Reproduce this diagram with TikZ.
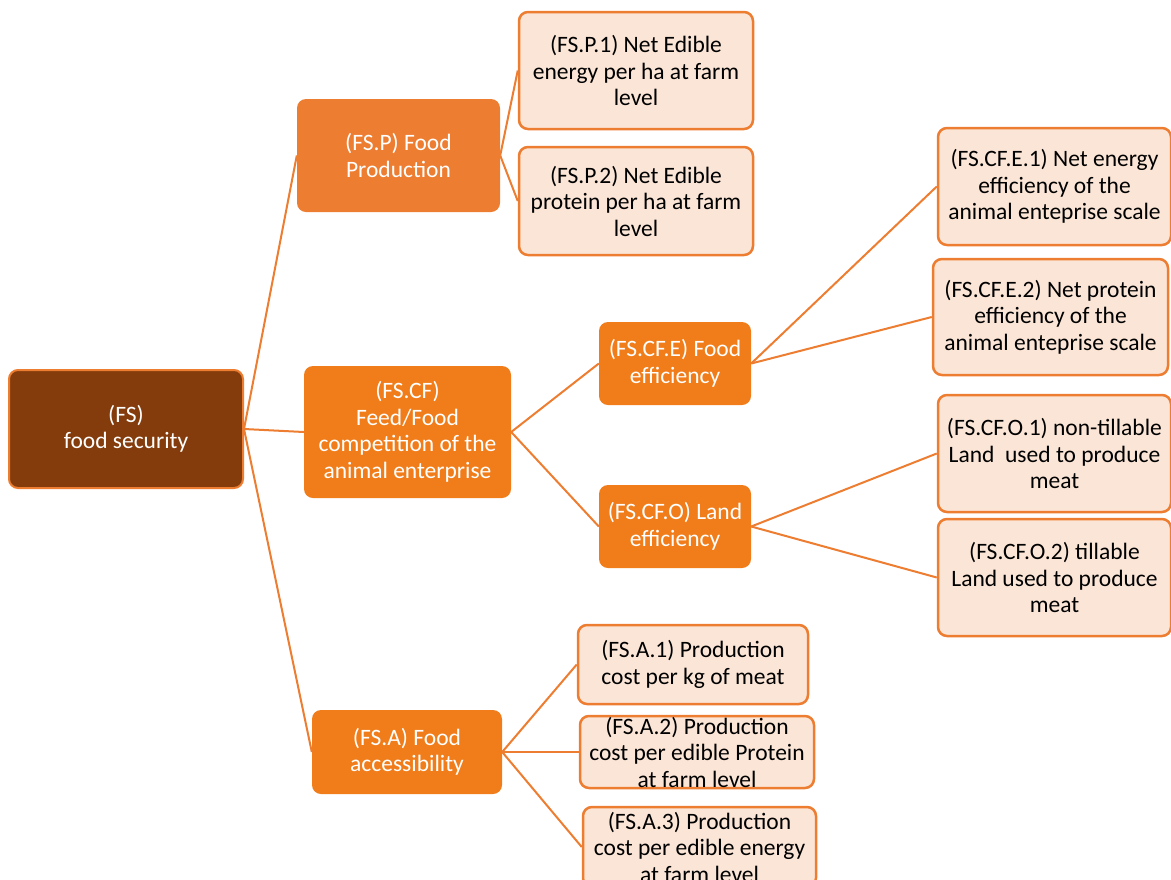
\documentclass[tikz,border=0pt]{standalone}
\usepackage{fontspec}
\setmainfont{Carlito}
\usetikzlibrary{positioning}
\definecolor{bark}{RGB}{132,60,12}
\definecolor{pumpkin}{RGB}{237,125,49}
\definecolor{tangerine}{RGB}{240,125,26}
\definecolor{peach}{RGB}{251,229,214}

\tikzset{
  box/.style={rounded corners=9pt,align=center,inner sep=0pt,
    font=\fontsize{23.5}{26.5}\selectfont},
  root/.style={box,fill=bark,draw=pumpkin,line width=2pt,text=white},
  branch/.style={box,fill=tangerine,text=white},
  leaf/.style={box,fill=peach,draw=pumpkin,line width=2.5pt,text=black},
  link/.style={pumpkin,line width=2pt}
}

\begin{document}
\begin{tikzpicture}[x=1pt,y=-1pt]
        \useasboundingbox (0,0) rectangle (1171,879);
        % root
        \node[root,minimum width=234pt,minimum height=118pt] (fs) at (126,429) {(FS)\\food security};
        % second level
        \node[branch,fill=pumpkin,minimum width=203pt,minimum height=113pt] (fsp) at (398.5,155.5) {(FS.P) Food\\Production};
        \node[branch,minimum width=207pt,minimum height=132pt] (fscf) at (407.5,432) {(FS.CF)\\Feed/Food\\competition of the\\animal enterprise};
        \node[branch,minimum width=190pt,minimum height=84pt] (fsa) at (407,752) {(FS.A) Food\\accessibility};
        % third level
        \node[leaf,minimum width=234pt,minimum height=117pt] (fsp1) at (636,70.5) {(FS.P.1) Net Edible\\energy per ha at farm\\level};
        \node[leaf,minimum width=234pt,minimum height=108pt] (fsp2) at (636,201) {(FS.P.2) Net Edible\\protein per ha at farm\\level};
        \node[branch,minimum width=152pt,minimum height=83pt] (fscfe) at (675,363.5) {(FS.CF.E) Food\\efficiency};
        \node[branch,minimum width=152pt,minimum height=83pt] (fscfo) at (675,526.5) {(FS.CF.O) Land\\efficiency};
        \node[leaf,minimum width=230pt,minimum height=79pt] (fsa1) at (693,664.5) {(FS.A.1) Production\\cost per kg of meat};
        \node[leaf,minimum width=234pt,minimum height=72pt] (fsa2) at (697,752) {(FS.A.2) Production\\cost per edible Protein\\at farm level};
        \node[leaf,minimum width=233pt,minimum height=80pt] (fsa3) at (699.5,847) {(FS.A.3) Production\\cost per edible energy\\at farm level};
        % fourth level
        \node[leaf,minimum width=233pt,minimum height=117pt] (fscfe1) at (1054.5,186.5) {(FS.CF.E.1) Net energy\\efficiency of the\\animal enteprise scale};
        \node[leaf,minimum width=235pt,minimum height=116pt] (fscfe2) at (1050.5,317) {(FS.CF.E.2) Net protein\\efficiency of the\\animal enteprise scale};
        \node[leaf,minimum width=233pt,minimum height=117pt] (fscfo1) at (1054.5,453.5) {(FS.CF.O.1) non-tillable\\Land\ \ used to produce\\meat};
        \node[leaf,minimum width=233pt,minimum height=117pt] (fscfo2) at (1054.5,577.5) {(FS.CF.O.2) tillable\\Land used to produce\\meat};
        % connectors
        \foreach \p/\c in {fs/fsp,fs/fscf,fs/fsa,fsp/fsp1,fsp/fsp2,fscf/fscfe,fscf/fscfo,
          fscfe/fscfe1,fscfe/fscfe2,fscfo/fscfo1,fscfo/fscfo2,fsa/fsa1,fsa/fsa2,fsa/fsa3}{
          \draw[link] (\p.east) -- (\c.west);
        }
      \end{tikzpicture}
\end{document}
